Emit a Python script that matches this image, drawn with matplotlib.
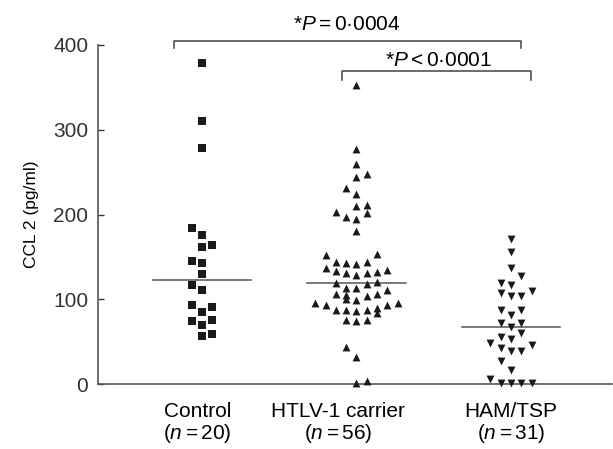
import numpy as np
import matplotlib
matplotlib.use("Agg")
import matplotlib.pyplot as plt

plt.rcParams['font.family'] = ['Liberation Sans', 'DejaVu Sans']
plt.rcParams['mathtext.fontset'] = 'custom'
plt.rcParams['mathtext.rm'] = 'Liberation Sans'
plt.rcParams['mathtext.it'] = 'Liberation Sans:italic'

# 数据
groups = ['Control\n($n = 20$)', 'HTLV-1 carrier\n($n = 56$)', 'HAM/TSP\n($n = 31$)']

control = [378.4, 310.3, 278.1, 183.7, 175.8, 162.1, 164.4, 145.5, 143.2, 129.8,
           116.8, 110.9, 93.2, 91.3, 85.4, 74.3, 75.5, 69.2, 56.6, 58.6]
control_col = [0, 0, 0, -1, 0, 0, 1, -1, 0, 0,
               -1, 0, -1, 1, 0, -1, 1, 0, 0, 1]

htlv = [352.8, 276.9, 259.2, 244.2, 247.8, 231.7, 223.8, 210.0, 211.2, 203.0,
        196.7, 194.3, 201.4, 180.9,
        153.4, 152.2,
        144.4, 143.2, 141.6, 144.4,
        136.4, 133.8, 131.3, 128.6, 130.6, 132.5, 134.5,
        118.7, 118.0, 120.7,
        112.9, 112.9, 110.9,
        106.2, 105.1, 103.9, 106.2,
        99.9, 99.2,
        96.1, 93.3, 87.4, 87.4, 86.6, 87.4, 89.4, 93.3, 96.1,
        83.5,
        75.7, 74.9, 75.7,
        43.3, 31.5, 0.8, 3.9]
htlv_col = [0, 0, 0, 0, 1, -1, 0, 0, 1, -2,
            -1, 0, 1, 0,
            2, -3,
            -2, -1, 0, 1,
            -3, -2, -1, 0, 1, 2, 3,
            -2, 1, 2,
            -1, 0, 3,
            -2, -1, 1, 2,
            -1, 0,
            -4, -3, -2, -1, 0, 1, 2, 3, 4,
            2,
            -1, 0, 1,
            -1, 0, 0, 1]

ham = [170.7, 155.4, 136.5, 127.4, 118.8, 116.4, 107.0, 103.8, 103.8, 109.7,
       87.3, 81.8, 87.3, 71.6, 67.3, 71.6, 59.8, 55.1, 52.7,
       48.0, 42.5, 39.3, 39.3, 46.0, 27.5, 16.5, 5.9, 0.8, 0.8, 0.8, 0.8]
ham_col = [0, 0, 0, 1, -1, 0, -1, 0, 1, 2,
           -1, 0, 1, -1, 0, 1, 1, -1, 0,
           -2, -1, 0, 1, 2, -1, 0, -2, -1, 0, 1, 2]

data = [control, htlv, ham]
cols = [control_col, htlv_col, ham_col]
markers = ['s', '^', 'v']
sizes = [36, 32, 32]

fig = plt.figure(figsize=(6.13, 4.49), dpi=100)
ax = fig.add_axes([98 / 613, 1 - 384 / 449, 514 / 613, (384 - 45) / 449])

step = 0.0667
pos = [1, 2, 3]
for i in range(3):
    x = pos[i] + step * np.array(cols[i])
    ax.scatter(x, data[i], marker=markers[i], s=sizes[i], color='#1a1a1a',
               linewidths=0, clip_on=False, zorder=3)
    med = np.median(data[i])
    ax.plot([pos[i] - 0.32, pos[i] + 0.32], [med, med], color='#555555', lw=1.1, zorder=2)

ax.set_xlim(0.327, 3.654)
ax.set_ylim(0, 400)
ax.set_yticks([0, 100, 200, 300, 400])
ax.set_xticks([0.97, 1.88, 3.0])
ax.set_xticklabels(groups, fontsize=15, linespacing=1.05)
ax.tick_params(axis='x', length=0, pad=13)
ax.tick_params(axis='y', direction='in', length=4, width=1, colors='#333333',
               labelsize=15, pad=7)
ax.set_ylabel('CCL 2 (pg/ml)', fontsize=12.5, labelpad=10)

for s in ['top', 'right']:
    ax.spines[s].set_visible(False)
for s in ['left', 'bottom']:
    ax.spines[s].set_color('#555555')
    ax.spines[s].set_linewidth(1.2)

# 显著性标注
br_color = '#444444'
ax.plot([0.822, 0.822, 3.068, 3.068], [396, 405, 405, 396], color=br_color, lw=1.1, clip_on=False)
ax.plot([1.909, 1.909, 3.132, 3.132], [359, 369, 369, 359], color=br_color, lw=1.1, clip_on=False)
ax.text(1.94, 424, '*$P = 0$·0004', fontsize=15, ha='center', va='center')
ax.text(2.53, 382, '*$P < 0$·0001', fontsize=15, ha='center', va='center')

fig.savefig('out.png', dpi=100)
